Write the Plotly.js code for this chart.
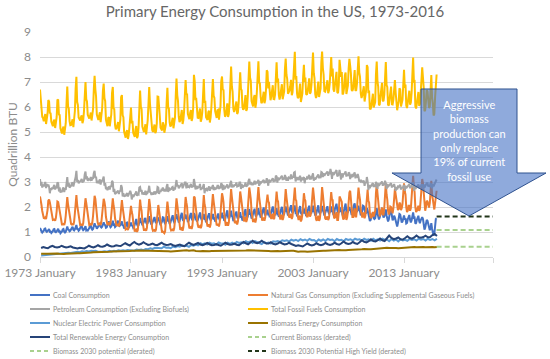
<!DOCTYPE html>
<html>
<head>
<meta charset="utf-8">
<script src="https://cdn.plot.ly/plotly-3.0.1.min.js"></script>
<style>html,body{margin:0;padding:0;background:#fff;}#chart{width:550px;height:359px;}</style>
</head>
<body>
<div id="chart"></div>
<script>
// ---------- DATA (quadrillion BTU per month), monthly from 1973-01 ----------
const startYear = 1973;
const seriesNames = [
  'Coal Consumption',
  'Natural Gas Consumption (Excluding Supplemental Gaseous Fuels)',
  'Petroleum Consumption (Excluding Biofuels)',
  'Total Fossil Fuels Consumption',
  'Nuclear Electric Power Consumption',
  'Biomass Energy Consumption',
  'Total Renewable Energy Consumption',
  'Current Biomass (derated)',
  'Biomass 2030 potential (derated)',
  'Biomass 2030 Potential High Yield (derated)'
];
const xTickLabels = ['1973 January','1983 January','1993 January','2003 January','2013 January'];
const xTickDates = ['1973-01-01','1983-01-01','1993-01-01','2003-01-01','2013-01-01'];

const coal = [
1.16,1.05,1.03,0.98,1.00,1.05,1.13,1.14,1.04,1.01,1.04,1.12,
1.12,1.01,1.02,0.96,0.98,1.03,1.11,1.12,1.01,0.99,1.02,1.10,
1.13,1.02,1.03,0.95,0.97,1.02,1.10,1.12,1.01,0.98,1.01,1.12,
1.22,1.10,1.09,1.03,1.05,1.11,1.19,1.21,1.09,1.06,1.11,1.22,
1.28,1.12,1.12,1.05,1.08,1.16,1.24,1.25,1.12,1.07,1.10,1.20,
1.23,1.06,1.08,1.06,1.10,1.16,1.24,1.26,1.14,1.09,1.12,1.22,
1.35,1.24,1.22,1.13,1.17,1.23,1.32,1.35,1.21,1.18,1.21,1.33,
1.39,1.30,1.27,1.17,1.19,1.27,1.41,1.42,1.26,1.19,1.22,1.36,
1.45,1.29,1.30,1.20,1.23,1.33,1.44,1.45,1.29,1.24,1.27,1.41,
1.42,1.27,1.26,1.14,1.17,1.22,1.37,1.38,1.22,1.18,1.22,1.33,
1.38,1.24,1.27,1.17,1.20,1.30,1.47,1.52,1.30,1.24,1.27,1.43,
1.56,1.39,1.39,1.27,1.31,1.40,1.52,1.56,1.37,1.32,1.36,1.49,
1.63,1.45,1.40,1.29,1.35,1.45,1.58,1.60,1.43,1.35,1.39,1.57,
1.55,1.38,1.38,1.27,1.33,1.43,1.59,1.58,1.40,1.34,1.38,1.52,
1.63,1.45,1.45,1.32,1.37,1.49,1.65,1.67,1.46,1.39,1.43,1.58,
1.71,1.56,1.51,1.38,1.42,1.56,1.74,1.77,1.52,1.44,1.50,1.66,
1.70,1.56,1.57,1.40,1.45,1.56,1.73,1.76,1.54,1.47,1.55,1.75,
1.70,1.52,1.54,1.42,1.47,1.60,1.76,1.78,1.58,1.50,1.52,1.68,
1.72,1.52,1.52,1.39,1.44,1.58,1.74,1.75,1.55,1.46,1.52,1.68,
1.72,1.54,1.55,1.42,1.45,1.55,1.72,1.74,1.55,1.48,1.54,1.70,
1.77,1.60,1.62,1.45,1.48,1.63,1.85,1.87,1.60,1.52,1.59,1.75,
1.85,1.64,1.60,1.44,1.50,1.66,1.80,1.82,1.60,1.52,1.58,1.74,
1.79,1.60,1.60,1.46,1.52,1.67,1.88,1.92,1.62,1.54,1.62,1.78,
1.92,1.72,1.72,1.54,1.59,1.74,1.91,1.93,1.69,1.62,1.70,1.84,
1.95,1.72,1.73,1.58,1.62,1.77,1.97,1.98,1.75,1.66,1.73,1.87,
1.89,1.67,1.73,1.59,1.70,1.84,2.00,2.02,1.80,1.66,1.70,1.84,
1.95,1.72,1.74,1.61,1.66,1.81,2.00,2.01,1.75,1.67,1.72,1.88,
2.02,1.84,1.80,1.66,1.78,1.89,2.03,2.07,1.83,1.75,1.83,2.03,
2.03,1.77,1.79,1.63,1.69,1.83,1.98,2.04,1.76,1.71,1.74,1.86,
1.94,1.74,1.78,1.64,1.69,1.85,2.04,2.05,1.81,1.73,1.77,1.92,
2.05,1.82,1.80,1.66,1.69,1.82,2.03,2.07,1.80,1.74,1.78,1.96,
2.04,1.86,1.80,1.66,1.76,1.87,2.02,2.03,1.82,1.75,1.78,1.95,
2.02,1.80,1.86,1.68,1.74,1.94,2.11,2.13,1.89,1.77,1.80,1.99,
1.93,1.80,1.85,1.67,1.75,1.90,2.10,2.14,1.82,1.76,1.80,1.94,
2.00,1.88,1.83,1.68,1.76,1.90,2.07,2.15,1.88,1.80,1.80,1.97,
2.05,1.87,1.83,1.67,1.71,1.89,2.05,2.03,1.82,1.74,1.76,1.96,
1.87,1.62,1.60,1.44,1.48,1.62,1.74,1.78,1.56,1.52,1.55,1.75,
1.95,1.75,1.67,1.50,1.58,1.76,1.94,1.97,1.71,1.58,1.63,1.87,
1.90,1.66,1.58,1.42,1.50,1.67,1.88,1.87,1.58,1.47,1.52,1.65,
1.58,1.42,1.31,1.22,1.36,1.50,1.72,1.70,1.44,1.38,1.42,1.50,
1.66,1.50,1.55,1.34,1.36,1.51,1.67,1.68,1.49,1.38,1.46,1.63,
1.78,1.57,1.58,1.33,1.36,1.49,1.64,1.65,1.44,1.35,1.47,1.52,
1.59,1.52,1.34,1.10,1.17,1.35,1.48,1.45,1.29,1.10,1.07,1.15,
1.35,1.12,0.95,0.86,0.92,1.25,1.52,1.55
];

const naturalGas = [
2.42,2.28,2.08,1.84,1.66,1.56,1.55,1.58,1.52,1.64,1.88,2.26,
2.30,2.18,2.00,1.77,1.58,1.48,1.49,1.50,1.45,1.57,1.83,2.22,
2.20,2.03,1.90,1.62,1.42,1.30,1.30,1.32,1.28,1.40,1.66,2.10,
2.40,2.10,1.90,1.62,1.42,1.32,1.30,1.32,1.28,1.42,1.75,2.32,
2.48,2.08,1.88,1.58,1.38,1.28,1.30,1.30,1.25,1.35,1.68,2.10,
2.35,2.15,1.92,1.58,1.38,1.28,1.30,1.32,1.27,1.38,1.65,2.15,
2.45,2.32,1.98,1.62,1.40,1.30,1.32,1.34,1.28,1.42,1.72,2.12,
2.33,2.20,2.02,1.60,1.38,1.28,1.35,1.36,1.27,1.36,1.68,2.15,
2.35,2.05,1.90,1.55,1.33,1.25,1.28,1.30,1.22,1.35,1.62,2.10,
2.28,1.98,1.78,1.45,1.22,1.10,1.12,1.14,1.08,1.20,1.50,1.95,
2.05,1.80,1.68,1.40,1.16,1.02,1.08,1.10,1.00,1.08,1.40,2.02,
2.30,2.00,1.85,1.45,1.20,1.08,1.08,1.10,1.05,1.17,1.52,1.95,
2.32,2.08,1.75,1.40,1.15,1.05,1.08,1.08,1.02,1.10,1.40,2.05,
2.08,1.85,1.62,1.30,1.08,0.98,1.02,1.00,0.95,1.02,1.30,1.82,
2.22,1.92,1.72,1.38,1.15,1.06,1.08,1.10,1.04,1.15,1.45,1.95,
2.35,2.10,1.85,1.48,1.18,1.08,1.14,1.16,1.05,1.18,1.48,2.08,
2.40,2.18,2.02,1.55,1.28,1.15,1.18,1.20,1.12,1.25,1.62,2.42,
2.38,2.05,1.98,1.58,1.30,1.18,1.22,1.24,1.15,1.25,1.55,2.22,
2.48,2.10,1.98,1.55,1.32,1.22,1.28,1.28,1.18,1.32,1.75,2.22,
2.52,2.22,2.02,1.70,1.40,1.26,1.30,1.30,1.22,1.38,1.75,2.38,
2.55,2.40,2.20,1.72,1.38,1.25,1.35,1.38,1.25,1.38,1.78,2.38,
2.72,2.40,2.12,1.70,1.45,1.35,1.42,1.42,1.30,1.42,1.72,2.28,
2.62,2.40,2.15,1.78,1.52,1.42,1.55,1.58,1.40,1.50,1.92,2.52,
2.78,2.55,2.32,1.82,1.52,1.40,1.48,1.50,1.38,1.52,1.98,2.45,
2.80,2.40,2.20,1.88,1.55,1.45,1.55,1.55,1.45,1.58,1.98,2.45,
2.50,2.22,2.18,1.78,1.55,1.52,1.68,1.70,1.52,1.55,1.78,2.32,
2.62,2.28,2.22,1.78,1.52,1.50,1.68,1.65,1.48,1.58,1.80,2.35,
2.72,2.40,2.15,1.82,1.65,1.58,1.65,1.72,1.52,1.62,2.05,2.72,
2.78,2.30,2.25,1.78,1.52,1.48,1.58,1.65,1.42,1.50,1.72,2.20,
2.55,2.32,2.25,1.78,1.62,1.62,1.80,1.82,1.62,1.68,1.98,2.45,
2.78,2.48,2.18,1.75,1.52,1.45,1.62,1.65,1.45,1.52,1.80,2.42,
2.80,2.50,2.15,1.72,1.55,1.50,1.60,1.62,1.48,1.55,1.82,2.45,
2.60,2.30,2.28,1.75,1.55,1.58,1.78,1.80,1.48,1.48,1.78,2.42,
2.35,2.30,2.20,1.65,1.50,1.55,1.80,1.82,1.48,1.58,1.80,2.22,
2.58,2.65,2.22,1.82,1.60,1.60,1.78,1.95,1.62,1.62,1.92,2.45,
2.78,2.48,2.30,1.85,1.60,1.58,1.75,1.75,1.55,1.65,1.95,2.52,
2.70,2.25,2.18,1.75,1.58,1.58,1.75,1.80,1.62,1.70,1.85,2.55,
2.92,2.55,2.20,1.72,1.62,1.72,1.95,1.98,1.70,1.70,1.98,2.72,
2.95,2.50,2.30,1.85,1.70,1.78,2.02,2.00,1.75,1.75,1.95,2.45,
2.72,2.50,2.20,1.95,1.88,1.92,2.18,2.12,1.88,1.95,2.12,2.55,
2.95,2.62,2.50,1.98,1.80,1.85,2.05,2.05,1.85,1.95,2.30,2.85,
3.25,2.80,2.60,1.98,1.80,1.85,2.00,2.05,1.85,1.92,2.30,2.65,
3.12,2.95,2.55,1.95,1.85,2.00,2.25,2.22,2.00,1.98,2.15,2.55,
3.05,2.50,2.28,1.98,1.90,2.15,2.55,2.65
];

const petroleum = [
3.12,2.85,3.00,2.78,2.90,2.82,2.92,3.00,2.76,2.92,2.82,2.90,
2.80,2.55,2.75,2.68,2.78,2.72,2.82,2.88,2.70,2.82,2.75,2.98,
2.95,2.62,2.78,2.58,2.62,2.62,2.72,2.78,2.60,2.75,2.68,2.90,
3.20,2.82,2.95,2.78,2.80,2.85,2.95,2.98,2.82,2.95,2.98,3.20,
3.45,3.00,3.08,2.95,3.00,3.02,3.05,3.12,2.98,3.05,3.05,3.30,
3.42,3.10,3.22,3.05,3.12,3.10,3.08,3.20,3.05,3.15,3.15,3.35,
3.45,3.15,3.22,2.95,3.05,2.95,3.00,3.10,2.90,3.08,3.02,3.20,
3.22,2.85,2.95,2.72,2.75,2.68,2.80,2.82,2.70,2.85,2.80,3.05,
3.00,2.60,2.72,2.52,2.55,2.58,2.62,2.65,2.52,2.65,2.62,2.88,
2.78,2.42,2.55,2.42,2.45,2.45,2.52,2.55,2.42,2.50,2.50,2.65,
2.55,2.30,2.50,2.40,2.45,2.48,2.55,2.62,2.45,2.52,2.50,2.78,
2.80,2.62,2.68,2.50,2.58,2.52,2.52,2.65,2.48,2.62,2.58,2.65,
2.85,2.60,2.58,2.48,2.58,2.50,2.58,2.62,2.50,2.58,2.55,2.80,
2.78,2.52,2.65,2.60,2.68,2.65,2.78,2.72,2.62,2.72,2.62,2.82,
2.92,2.60,2.78,2.68,2.70,2.72,2.78,2.80,2.65,2.78,2.70,2.88,
3.08,2.82,2.88,2.75,2.80,2.82,2.85,2.95,2.75,2.85,2.85,2.98,
2.98,2.75,2.95,2.78,2.85,2.80,2.85,2.92,2.78,2.85,2.80,3.12,
2.95,2.70,2.85,2.72,2.80,2.78,2.82,2.92,2.68,2.78,2.72,2.85,
2.92,2.55,2.75,2.65,2.72,2.68,2.78,2.82,2.65,2.80,2.72,2.82,
2.88,2.68,2.80,2.72,2.75,2.75,2.85,2.85,2.72,2.82,2.75,2.95,
2.90,2.68,2.88,2.72,2.75,2.78,2.85,2.90,2.75,2.82,2.82,2.95,
3.05,2.78,2.90,2.80,2.85,2.88,2.88,2.98,2.82,2.85,2.85,2.98,
2.98,2.72,2.92,2.78,2.85,2.85,2.85,2.98,2.82,2.88,2.88,3.05,
3.12,2.90,3.00,2.88,2.95,2.88,2.98,3.05,2.90,3.02,2.95,3.05,
3.08,2.85,3.02,2.95,2.98,2.98,3.05,3.08,2.95,3.05,2.98,3.15,
3.02,2.85,3.10,3.00,3.02,3.05,3.12,3.15,3.00,3.10,3.02,3.25,
3.22,2.98,3.18,3.08,3.12,3.15,3.20,3.25,3.08,3.18,3.10,3.28,
3.20,3.05,3.18,3.05,3.18,3.18,3.15,3.30,3.12,3.22,3.18,3.38,
3.40,3.02,3.20,3.12,3.15,3.08,3.18,3.25,3.02,3.18,3.08,3.15,
3.20,2.95,3.15,3.10,3.18,3.15,3.25,3.28,3.10,3.18,3.15,3.30,
3.35,3.05,3.18,3.10,3.15,3.18,3.28,3.30,3.15,3.25,3.15,3.40,
3.38,3.20,3.35,3.25,3.30,3.35,3.38,3.42,3.25,3.35,3.32,3.52,
3.38,3.12,3.40,3.28,3.32,3.38,3.38,3.48,3.22,3.30,3.30,3.48,
3.28,3.10,3.35,3.18,3.30,3.32,3.35,3.42,3.22,3.30,3.25,3.38,
3.35,3.12,3.30,3.18,3.28,3.25,3.32,3.38,3.15,3.25,3.22,3.32,
3.20,3.02,3.08,3.02,3.05,3.00,3.02,3.05,2.85,3.00,2.95,3.20,
3.02,2.68,2.88,2.75,2.85,2.85,2.92,2.95,2.80,2.90,2.80,3.00,
2.95,2.72,2.95,2.85,2.90,2.95,2.98,3.02,2.85,2.95,2.88,3.05,
2.95,2.72,2.92,2.82,2.85,2.88,2.88,2.95,2.78,2.88,2.82,2.92,
2.78,2.65,2.80,2.70,2.82,2.80,2.85,2.88,2.70,2.80,2.75,2.82,
2.88,2.65,2.85,2.75,2.80,2.82,2.88,2.92,2.75,2.85,2.80,2.95,
2.95,2.65,2.85,2.72,2.78,2.80,2.85,2.90,2.75,2.85,2.80,2.88,
2.88,2.70,2.90,2.78,2.85,2.88,2.95,2.95,2.82,2.88,2.80,2.95,
2.88,2.75,2.92,2.82,2.90,2.98,3.05,3.10
];

const totalFossil = [
6.70,6.18,6.11,5.60,5.56,5.43,5.60,5.72,5.32,5.57,5.74,6.28,
6.22,5.74,5.77,5.41,5.34,5.23,5.42,5.50,5.16,5.38,5.60,6.30,
6.28,5.67,5.71,5.15,5.01,4.94,5.12,5.22,4.89,5.13,5.35,6.12,
6.82,6.02,5.94,5.43,5.27,5.28,5.44,5.51,5.19,5.43,5.84,6.74,
7.21,6.20,6.08,5.58,5.46,5.46,5.59,5.67,5.35,5.47,5.83,6.60,
7.00,6.31,6.22,5.69,5.60,5.54,5.62,5.78,5.46,5.62,5.92,6.72,
7.25,6.71,6.42,5.70,5.62,5.48,5.64,5.79,5.39,5.68,5.95,6.65,
6.94,6.35,6.24,5.49,5.32,5.23,5.56,5.60,5.23,5.40,5.70,6.56,
6.80,5.94,5.92,5.27,5.11,5.16,5.34,5.40,5.03,5.24,5.51,6.39,
6.48,5.67,5.59,5.01,4.84,4.77,5.01,5.07,4.72,4.88,5.22,5.93,
5.98,5.34,5.45,4.97,4.81,4.80,5.10,5.24,4.75,4.84,5.17,6.23,
6.66,6.01,5.92,5.22,5.09,5.00,5.12,5.31,4.90,5.11,5.46,6.09,
6.80,6.13,5.73,5.17,5.08,5.00,5.24,5.30,4.95,5.03,5.34,6.42,
6.41,5.75,5.65,5.17,5.09,5.06,5.39,5.30,4.97,5.08,5.30,6.16,
6.77,5.97,5.95,5.38,5.22,5.27,5.51,5.57,5.15,5.32,5.58,6.41,
7.14,6.48,6.24,5.61,5.40,5.46,5.73,5.88,5.32,5.47,5.83,6.72,
7.08,6.49,6.54,5.73,5.58,5.51,5.76,5.88,5.44,5.57,5.97,7.29,
7.03,6.27,6.37,5.72,5.57,5.56,5.80,5.94,5.41,5.53,5.79,6.75,
7.12,6.17,6.25,5.59,5.48,5.48,5.80,5.85,5.38,5.58,5.99,6.72,
7.12,6.44,6.37,5.84,5.60,5.56,5.87,5.89,5.49,5.68,6.04,7.03,
7.22,6.68,6.70,5.89,5.61,5.66,6.05,6.15,5.60,5.72,6.19,7.08,
7.62,6.82,6.62,5.94,5.80,5.89,6.10,6.22,5.72,5.79,6.15,7.00,
7.39,6.72,6.67,6.02,5.89,5.94,6.28,6.48,5.84,5.92,6.42,7.35,
7.82,7.17,7.04,6.24,6.06,6.02,6.37,6.48,5.97,6.16,6.63,7.34,
7.83,6.97,6.95,6.41,6.15,6.20,6.57,6.61,6.15,6.29,6.69,7.47,
7.41,6.74,7.01,6.37,6.27,6.41,6.80,6.87,6.32,6.31,6.50,7.41,
7.79,6.98,7.14,6.47,6.30,6.46,6.88,6.91,6.31,6.43,6.62,7.51,
7.94,7.29,7.13,6.53,6.61,6.65,6.83,7.09,6.47,6.59,7.06,8.13,
8.21,7.09,7.24,6.53,6.36,6.39,6.74,6.94,6.20,6.39,6.54,7.21,
7.69,7.01,7.18,6.52,6.49,6.62,7.09,7.15,6.53,6.59,6.90,7.67,
8.18,7.35,7.16,6.51,6.36,6.45,6.93,7.02,6.40,6.51,6.73,7.78,
8.22,7.56,7.30,6.63,6.61,6.72,7.00,7.07,6.55,6.65,6.92,7.92,
8.00,7.22,7.54,6.71,6.61,6.90,7.27,7.41,6.59,6.55,6.88,7.89,
7.56,7.20,7.40,6.50,6.55,6.77,7.25,7.38,6.52,6.64,6.85,7.54,
7.93,7.65,7.35,6.68,6.64,6.75,7.17,7.48,6.65,6.67,6.94,7.74,
8.03,7.37,7.21,6.54,6.36,6.47,6.82,6.83,6.22,6.39,6.66,7.68,
7.59,6.55,6.66,5.94,5.91,6.05,6.41,6.53,5.98,6.12,6.20,7.30,
7.82,7.02,6.82,6.07,6.10,6.43,6.87,6.97,6.26,6.23,6.49,7.64,
7.80,6.88,6.80,6.09,6.05,6.33,6.78,6.82,6.11,6.10,6.29,7.02,
7.08,6.57,6.31,5.87,6.06,6.22,6.75,6.70,6.02,6.13,6.29,6.87,
7.49,6.77,6.90,6.07,5.96,6.18,6.60,6.65,6.09,6.18,6.56,7.43,
7.98,7.02,7.03,6.03,5.94,6.14,6.49,6.60,6.04,6.12,6.57,7.05,
7.59,7.17,6.79,5.83,5.87,6.23,6.68,6.62,6.11,5.96,6.02,6.65,
7.28,6.37,6.15,5.66,5.72,6.38,7.12,7.30
];

// quarterly series (Q1..Q4) from 1973 Q1
const nuclear = [
0.06,0.07,0.08,0.09, 0.09,0.10,0.11,0.11, 0.14,0.15,0.17,0.16, 0.17,0.16,0.18,0.17,
0.21,0.19,0.23,0.21, 0.24,0.22,0.25,0.24, 0.25,0.21,0.23,0.22, 0.23,0.21,0.25,0.22,
0.25,0.23,0.27,0.25, 0.27,0.25,0.28,0.26, 0.27,0.25,0.30,0.28, 0.30,0.27,0.32,0.31,
0.35,0.32,0.37,0.36, 0.38,0.35,0.41,0.37, 0.38,0.35,0.42,0.39, 0.44,0.41,0.47,0.44,
0.45,0.41,0.48,0.45, 0.50,0.47,0.55,0.51, 0.55,0.50,0.57,0.53, 0.55,0.49,0.58,0.54,
0.54,0.49,0.57,0.52, 0.57,0.52,0.60,0.56, 0.59,0.55,0.63,0.58, 0.62,0.56,0.63,0.59,
0.58,0.52,0.60,0.55, 0.58,0.54,0.63,0.61, 0.64,0.60,0.67,0.64, 0.67,0.62,0.69,0.65,
0.69,0.64,0.71,0.66, 0.70,0.65,0.72,0.67, 0.68,0.61,0.70,0.65, 0.70,0.64,0.72,0.68,
0.70,0.63,0.72,0.67, 0.69,0.63,0.72,0.68, 0.71,0.66,0.73,0.69, 0.71,0.66,0.73,0.68,
0.71,0.65,0.73,0.67, 0.71,0.66,0.73,0.69, 0.70,0.63,0.72,0.66, 0.70,0.62,0.71,0.66,
0.69,0.65,0.72,0.68, 0.71,0.66,0.73,0.69, 0.72,0.66,0.73,0.68, 0.72,0.67,0.73
];

const biomass = [
0.13,0.12,0.13,0.13, 0.14,0.13,0.13,0.14, 0.13,0.12,0.12,0.13, 0.14,0.13,0.14,0.15,
0.15,0.15,0.15,0.16, 0.18,0.17,0.18,0.19, 0.19,0.18,0.19,0.20, 0.21,0.20,0.21,0.22,
0.22,0.21,0.22,0.23, 0.23,0.22,0.23,0.24, 0.25,0.24,0.25,0.26, 0.26,0.25,0.26,0.26,
0.25,0.24,0.24,0.24, 0.23,0.23,0.23,0.24, 0.23,0.22,0.23,0.24, 0.24,0.23,0.24,0.25,
0.27,0.25,0.26,0.27, 0.24,0.23,0.23,0.24, 0.23,0.22,0.23,0.24, 0.24,0.23,0.24,0.25,
0.24,0.23,0.24,0.25, 0.25,0.24,0.25,0.26, 0.26,0.25,0.26,0.27, 0.27,0.26,0.27,0.27,
0.26,0.25,0.26,0.27, 0.24,0.23,0.24,0.25, 0.24,0.23,0.24,0.25, 0.25,0.24,0.25,0.25,
0.22,0.21,0.22,0.23, 0.22,0.21,0.22,0.23, 0.23,0.22,0.23,0.24, 0.25,0.25,0.26,0.27,
0.26,0.26,0.27,0.28, 0.27,0.26,0.27,0.28, 0.28,0.28,0.29,0.30, 0.31,0.31,0.32,0.33,
0.31,0.31,0.32,0.34, 0.35,0.35,0.36,0.37, 0.37,0.36,0.37,0.38, 0.36,0.35,0.36,0.37,
0.38,0.38,0.39,0.40, 0.40,0.39,0.40,0.41, 0.40,0.39,0.40,0.41, 0.40,0.39,0.40
];

const totalRenewable = [
0.36,0.40,0.37,0.35, 0.41,0.45,0.40,0.38, 0.40,0.45,0.41,0.38, 0.40,0.43,0.38,0.35,
0.34,0.37,0.35,0.34, 0.39,0.45,0.41,0.38, 0.42,0.47,0.42,0.41, 0.44,0.50,0.45,0.42,
0.43,0.47,0.45,0.44, 0.50,0.55,0.50,0.46, 0.54,0.60,0.53,0.49, 0.53,0.59,0.53,0.48,
0.50,0.54,0.49,0.47, 0.52,0.57,0.51,0.48, 0.49,0.52,0.47,0.44, 0.47,0.50,0.45,0.43,
0.51,0.57,0.52,0.48, 0.52,0.56,0.50,0.47, 0.51,0.56,0.51,0.47, 0.48,0.52,0.48,0.45,
0.51,0.57,0.52,0.49, 0.50,0.54,0.49,0.47, 0.54,0.60,0.55,0.51, 0.58,0.65,0.58,0.55,
0.59,0.65,0.58,0.54, 0.54,0.59,0.53,0.50, 0.54,0.59,0.54,0.50, 0.52,0.57,0.52,0.48,
0.44,0.47,0.44,0.42, 0.48,0.54,0.49,0.46, 0.49,0.55,0.50,0.47, 0.50,0.56,0.51,0.48,
0.51,0.57,0.52,0.49, 0.55,0.62,0.55,0.52, 0.54,0.60,0.55,0.52, 0.59,0.67,0.61,0.58,
0.63,0.71,0.64,0.62, 0.67,0.74,0.67,0.64, 0.75,0.86,0.76,0.71, 0.74,0.78,0.71,0.70,
0.76,0.83,0.76,0.73, 0.78,0.86,0.79,0.77, 0.80,0.85,0.79,0.80, 0.88,0.92,0.84
];

// projected biomass levels (flat reference lines beyond the data)
const projectionDates = ['2016-08-01','2022-10-12'];
const currentBiomass = [0.41, 0.41];
const biomass2030 = [1.08, 1.08];
const biomass2030High = [1.62, 1.62];

const calloutText = 'Aggressive<br>biomass<br>production can<br>only replace<br>19% of current<br>fossil use';

// ---------- build x categories ----------
function monthly(n){const a=[];for(let i=0;i<n;i++){const y=startYear+Math.floor(i/12),m=i%12+1;a.push(y+'-'+String(m).padStart(2,'0')+'-01');}return a;}
function quarterly(n){const a=[];for(let i=0;i<n;i++){const y=startYear+Math.floor(i/4),m=(i%4)*3+2;a.push(y+'-'+String(m).padStart(2,'0')+'-15');}return a;}

const colors = ['#4472C4','#ED7D31','#A5A5A5','#FFC000','#5B9BD5','#997300','#264478','#A9D18E','#A9D18E','#22361A'];
const dashes = ['solid','solid','solid','solid','solid','solid','solid','5px,3px','5px,3px','5px,3px'];

const ys = [coal, naturalGas, petroleum, totalFossil, nuclear, biomass, totalRenewable, currentBiomass, biomass2030, biomass2030High];
const xs = [monthly(coal.length), monthly(naturalGas.length), monthly(petroleum.length), monthly(totalFossil.length),
            quarterly(nuclear.length), quarterly(biomass.length), quarterly(totalRenewable.length),
            projectionDates, projectionDates, projectionDates];

const traces = ys.map((y,i)=>({
  type:'scatter', mode:'lines', x:xs[i], y:y, name:seriesNames[i],
  line:{color:colors[i], width:2, dash:dashes[i]}, hoverinfo:'skip'
}));

// ---------- geometry helpers (pixel -> paper) ----------
const M = {l:40, r:57, t:32, b:102};
const PW = 550 - M.l - M.r, PH = 359 - M.t - M.b;
const px = x => (x - M.l) / PW;
const py = y => (M.t + PH - y) / PH;

// manual two-column legend
const shapes = [];
const annotations = [];
seriesNames.forEach((name,i)=>{
  const col = i % 2, row = Math.floor(i / 2);
  const lx = col === 0 ? 30 : 248;
  const yy = 295 + row * 14;
  shapes.push({type:'line', xref:'paper', yref:'paper', x0:px(lx), x1:px(lx+20), y0:py(yy), y1:py(yy),
    line:{color:colors[i], width:2, dash:(dashes[i]==='solid'?'solid':'4px,3px')}});
  annotations.push({xref:'paper', yref:'paper', x:px(lx+21), y:py(yy), xanchor:'left', yanchor:'middle',
    text:name, showarrow:false, font:{size:7, color:'#8c8c8c'}});
});

// down-arrow callout
const pts = [[421,89],[517,89],[517,173],[546,173],[469,216],[392,173],[421,173]];
const path = pts.map((p,i)=>(i?'L':'M')+px(p[0]).toFixed(4)+','+py(p[1]).toFixed(4)).join(' ')+' Z';
shapes.push({type:'path', xref:'paper', yref:'paper', path:path,
  fillcolor:'rgba(68,114,196,0.6)', line:{color:'#2F528F', width:1}, layer:'above'});
annotations.push({xref:'paper', yref:'paper', x:px(469), y:py(140.5), xanchor:'center', yanchor:'middle',
  text:calloutText, showarrow:false, align:'center', font:{size:11, color:'#ffffff'}});

const layout = {
  width:550, height:359, margin:M,
  paper_bgcolor:'#ffffff', plot_bgcolor:'#ffffff',
  font:{family:'Lato, "Open Sans", sans-serif', color:'#8c8c8c'},
  title:{text:'Primary Energy Consumption in the US, 1973-2016', font:{size:15, color:'#666666'},
         x:0.5, xanchor:'center', xref:'container', y:1-12/359, yanchor:'middle', yref:'container'},
  showlegend:false,
  xaxis:{type:'date', range:['1973-01-01','2022-10-12'],
         tickvals:xTickDates.concat(['2022-10-12']), ticktext:xTickLabels.concat(['']),
         ticks:'outside', ticklen:5, tickcolor:'#d9d9d9', tickwidth:1,
         showline:true, linecolor:'#d9d9d9', linewidth:1, showgrid:false, zeroline:false,
         tickfont:{size:12, color:'#8c8c8c'}},
  yaxis:{range:[0,9], tick0:0, dtick:1, showgrid:true, gridcolor:'#d9d9d9', gridwidth:1,
         zeroline:false, showline:false, ticks:'', ticklabelstandoff:8,
         tickfont:{size:12, color:'#8c8c8c'},
         title:{text:'Quadrillion BTU', font:{size:12, color:'#8c8c8c'}, standoff:3}},
  shapes:shapes, annotations:annotations
};

Plotly.newPlot('chart', traces, layout, {staticPlot:true, displayModeBar:false});
</script>
</body>
</html>
